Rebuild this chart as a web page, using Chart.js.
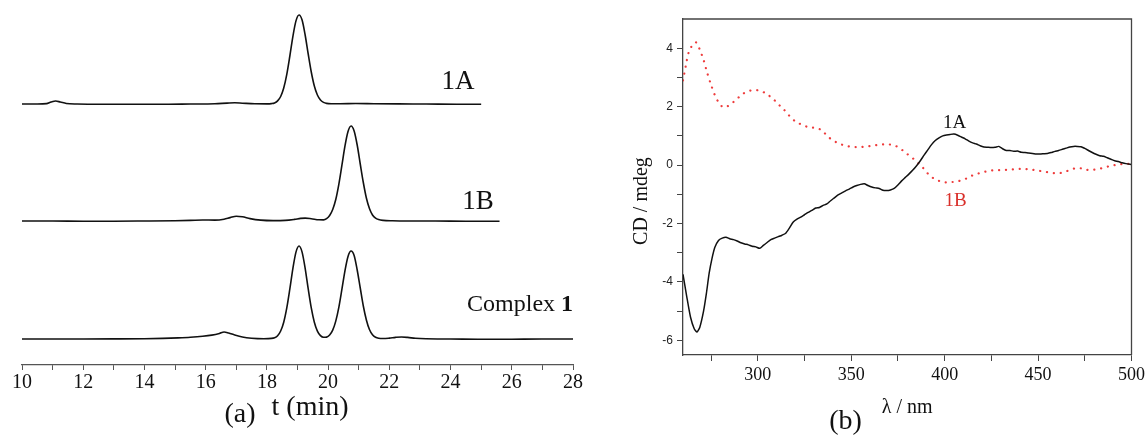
<!DOCTYPE html>
<html>
<head>
<meta charset="utf-8">
<script src="https://cdn.jsdelivr.net/npm/chart.js@4.4.1/dist/chart.umd.min.js"></script>
<style>
  html,body{margin:0;padding:0;background:#fff;}
  #wrap{position:relative;width:1148px;height:437px;overflow:hidden;background:#fff;}
  #ca{position:absolute;left:0;top:0;}
  #cb{position:absolute;left:600px;top:0;}
</style>
</head>
<body>
<div id="wrap">
  <canvas id="ca" width="600" height="437"></canvas>
  <canvas id="cb" width="548" height="437"></canvas>
</div>
<script>
// ---------------- Panel (a): HPLC chromatograms ----------------
// [time (min), detector signal above own baseline]
const hplc1A = [[10,0],[10.5,0],[10.8,0.4],[10.95,2.0],[11.1,3.0],[11.25,2.0],[11.45,0.5],[11.8,0],[12.5,-0.2],[13.5,-0.3],[14.5,-0.3],[15.5,0],[16.3,0.3],[16.7,0.9],[16.95,1.2],[17.2,0.8],[17.6,0.2],[18.0,0.1],[18.15,0.4],[18.25,1.1],[18.35,3.1],[18.45,7.5],[18.55,16],[18.65,29.7],[18.75,48],[18.85,67.7],[18.95,83.1],[19.05,89],[19.15,84],[19.25,69],[19.35,50],[19.45,32],[19.55,18],[19.65,9],[19.75,4],[19.85,1.6],[19.95,0.6],[20.1,0.3],[20.4,0.3],[20.9,0.5],[21.5,0.3],[22.3,0.1],[23.2,0],[24.2,-0.2],[25.0,-0.2]];
const hplc1B = [[10,0],[11,0],[12,-0.2],[13,-0.2],[14,0],[15,0.3],[15.5,0.6],[15.9,1.0],[16.3,0.9],[16.6,1.8],[16.8,3.4],[17.0,4.8],[17.2,4.2],[17.45,2.4],[17.8,0.9],[18.2,0.4],[18.6,0.6],[18.9,1.6],[19.1,2.6],[19.25,2.9],[19.45,2.3],[19.7,1.2],[19.85,1.1],[19.95,2.3],[20.05,5.5],[20.15,11.5],[20.25,21.5],[20.35,36.7],[20.45,55.6],[20.55,74.9],[20.65,89.5],[20.75,95],[20.85,90],[20.95,76],[21.05,57],[21.15,38.5],[21.25,23],[21.35,12.5],[21.45,6],[21.55,2.8],[21.65,1.4],[21.8,0.6],[22.1,0.2],[22.6,0],[23.5,0],[24.5,-0.2],[25.6,-0.2]];
const hplcComplex = [[10,0],[11,0],[12,0],[13,0.1],[14,0.3],[14.6,0.6],[15.1,1.1],[15.5,1.7],[15.9,2.7],[16.2,3.9],[16.45,5.6],[16.6,7.0],[16.75,6.0],[16.95,4.0],[17.2,2.0],[17.5,0.8],[17.9,0.3],[18.15,0.6],[18.25,1.3],[18.35,3.3],[18.45,8.0],[18.55,16.8],[18.65,31.1],[18.75,50.1],[18.85,70.7],[18.95,86.9],[19.05,93],[19.15,86.9],[19.25,70.7],[19.35,50.1],[19.45,31.1],[19.55,16.8],[19.65,7.9],[19.75,3.4],[19.85,1.7],[19.95,1.9],[20.05,4.0],[20.15,8.9],[20.25,17.9],[20.35,31.7],[20.45,49.6],[20.55,68.2],[20.65,82.6],[20.75,88],[20.85,83.5],[20.95,69],[21.05,51],[21.15,33],[21.25,19],[21.35,9.5],[21.45,4.3],[21.55,1.8],[21.65,0.8],[21.8,0.5],[22.0,0.9],[22.2,1.6],[22.4,2.0],[22.6,1.6],[22.85,0.7],[23.2,0.2],[24,0],[25,-0.3],[26,-0.2],[27,0],[28,0]];
// vertical offsets of the stacked traces (same units as signal)
const hplcOffsets = [261, 144, 26];
const hplcNames = ['1A', '1B', 'Complex 1'];
const timeTicks = [10,11,12,13,14,15,16,17,18,19,20,21,22,23,24,25,26,27,28];

// ---------------- Panel (b): CD spectra ----------------
// [wavelength (nm), CD (mdeg)]
const cd1A = [[260,-3.74],[262,-4.5],[264,-5.2],[266,-5.6],[267.5,-5.71],[269,-5.55],[271,-5.0],[272.5,-4.4],[274,-3.7],[275.5,-3.2],[277,-2.82],[279,-2.58],[281,-2.5],[283,-2.47],[285,-2.52],[287,-2.55],[289,-2.6],[291,-2.66],[293,-2.7],[295,-2.73],[297,-2.78],[299,-2.8],[301,-2.85],[303,-2.75],[305,-2.65],[307,-2.55],[309,-2.5],[311,-2.45],[313,-2.4],[315,-2.33],[317,-2.15],[319,-1.95],[321,-1.85],[323,-1.78],[325,-1.7],[327,-1.62],[329,-1.55],[331,-1.47],[333,-1.45],[335,-1.38],[337,-1.33],[339,-1.22],[341,-1.12],[343,-1.02],[345,-0.95],[347,-0.88],[349,-0.82],[351,-0.75],[353,-0.7],[355,-0.66],[357,-0.64],[359,-0.7],[361,-0.75],[363,-0.78],[365,-0.8],[367,-0.86],[369,-0.87],[371,-0.85],[373,-0.8],[375,-0.68],[377,-0.54],[379,-0.42],[381,-0.3],[383,-0.17],[385,-0.02],[387,0.15],[389,0.34],[391,0.52],[393,0.7],[395,0.84],[397,0.93],[399,1.0],[401,1.03],[403,1.05],[405,1.06],[407,1.02],[409,0.96],[411,0.9],[413,0.82],[415,0.76],[417,0.72],[419,0.66],[421,0.62],[423,0.61],[425,0.6],[427,0.61],[429,0.64],[431,0.56],[433,0.5],[435,0.5],[437,0.47],[439,0.48],[441,0.44],[443,0.43],[445,0.41],[447,0.4],[449,0.38],[451,0.38],[453,0.39],[455,0.4],[457,0.43],[459,0.47],[461,0.5],[463,0.54],[465,0.58],[467,0.62],[469,0.64],[471,0.64],[473,0.63],[475,0.57],[477,0.5],[479,0.43],[481,0.37],[483,0.32],[485,0.3],[487,0.25],[489,0.2],[491,0.15],[493,0.12],[495,0.08],[497,0.05],[500,0.02]];
const cd1B = [[260,2.9],[261.5,3.4],[263,3.85],[265,4.1],[267,4.2],[269,3.95],[271,3.6],[273,3.15],[275,2.75],[277,2.4],[279,2.15],[281,2.0],[282.5,1.98],[284,2.02],[286,2.1],[288,2.22],[290,2.33],[292,2.44],[294,2.5],[296,2.55],[298,2.57],[300,2.56],[302,2.52],[304,2.47],[306,2.38],[308,2.28],[310,2.15],[312,2.02],[314,1.9],[316,1.75],[318,1.62],[320,1.5],[322,1.43],[324,1.37],[326,1.32],[328,1.28],[330,1.28],[332,1.26],[334,1.2],[336,1.08],[338,0.95],[340,0.86],[342,0.78],[344,0.72],[346,0.68],[348,0.65],[350,0.63],[352,0.62],[354,0.61],[356,0.62],[358,0.64],[360,0.65],[362,0.67],[364,0.69],[366,0.7],[368,0.71],[370,0.71],[372,0.69],[374,0.65],[376,0.58],[378,0.48],[380,0.38],[382,0.28],[384,0.18],[386,0.06],[388,-0.06],[390,-0.22],[392,-0.35],[394,-0.45],[396,-0.52],[398,-0.56],[400,-0.59],[402,-0.59],[404,-0.58],[406,-0.57],[408,-0.54],[410,-0.5],[412,-0.45],[414,-0.38],[416,-0.33],[418,-0.29],[420,-0.25],[423,-0.21],[426,-0.18],[430,-0.17],[434,-0.16],[438,-0.14],[442,-0.13],[446,-0.15],[450,-0.19],[454,-0.23],[458,-0.27],[461,-0.28],[464,-0.24],[467,-0.17],[470,-0.11],[473,-0.11],[476,-0.16],[479,-0.16],[482,-0.14],[485,-0.09],[488,-0.04],[491,0.0],[494,0.03],[497,0.04],[500,0.04]];
const wlTicks = [275,300,325,350,375,400,425,450,475,500];
const cdTicks = [-6,-5,-4,-3,-2,-1,0,1,2,3,4];

// ---------------- helpers / plugins ----------------
const SERIF = '"Liberation Serif", "Times New Roman", serif';
const SANS = '"Liberation Sans", Arial, sans-serif';

const annot = {
  id: 'annot',
  afterDraw(chart, args, opts) {
    const ctx = chart.ctx, xs = chart.scales.x, ys = chart.scales.y, ca = chart.chartArea;
    ctx.save();
    (opts.items || []).forEach(it => {
      const px = it.x !== undefined ? xs.getPixelForValue(it.x) : ca.left + it.dx;
      const py = it.y !== undefined ? ys.getPixelForValue(it.y) : ca.bottom + it.dy;
      ctx.save();
      ctx.translate(px, py);
      if (it.rot) ctx.rotate(it.rot);
      ctx.fillStyle = it.color || '#111';
      ctx.textBaseline = 'middle';
      const parts = it.parts || [{text: it.text}];
      let total = 0;
      parts.forEach(p => { ctx.font = (p.bold ? 'bold ' : '') + it.font; total += ctx.measureText(p.text).width; });
      let cx = it.align === 'left' ? 0 : -total / 2;
      ctx.textAlign = 'left';
      parts.forEach(p => {
        ctx.font = (p.bold ? 'bold ' : '') + it.font;
        ctx.fillText(p.text, cx, 0);
        cx += ctx.measureText(p.text).width;
      });
      ctx.restore();
    });
    ctx.restore();
  }
};

const frame = {
  id: 'frame',
  afterDraw(chart, args, opts) {
    if (!opts.on) return;
    const ctx = chart.ctx, ca = chart.chartArea;
    ctx.save();
    ctx.strokeStyle = '#444';
    ctx.lineWidth = 1.3;
    ctx.beginPath();
    ctx.moveTo(ca.left, ca.top);
    ctx.lineTo(ca.right, ca.top);
    ctx.lineTo(ca.right, ca.bottom);
    ctx.stroke();
    ctx.restore();
  }
};

// ---------------- Chart (a) ----------------
const traces = [hplc1A, hplc1B, hplcComplex];
new Chart(document.getElementById('ca'), {
  type: 'line',
  data: {
    datasets: traces.map((tr, i) => ({
      label: hplcNames[i],
      data: tr.map(p => ({x: p[0], y: p[1] + hplcOffsets[i]})),
      borderColor: '#111',
      borderWidth: 1.6,
      pointRadius: 0,
      cubicInterpolationMode: 'monotone',
      fill: false
    }))
  },
  options: {
    responsive: false, animation: false, devicePixelRatio: 1,
    layout: {padding: {left: 22, right: 27, top: 10, bottom: 0}},
    plugins: {
      legend: {display: false}, tooltip: {enabled: false},
      annot: {items: [
        {text: '1A', x: 24.24, y: 283, font: '27px ' + SERIF},
        {text: '1B', x: 24.9, y: 163, font: '27px ' + SERIF},
        {parts: [{text: 'Complex '}, {text: '1', bold: true}], x: 24.54, y: 60, align: 'left', font: '24px ' + SERIF},
        {text: '(a)', x: 17.12, dy: 50, font: '28px ' + SERIF},
        {text: 't (min)', x: 19.41, dy: 43, font: '28px ' + SERIF}
      ]}
    },
    scales: {
      x: {
        type: 'linear', min: 10, max: 28,
        afterFit: s => { s.height = 72; },
        afterBuildTicks: s => { s.ticks = timeTicks.map(v => ({value: v})); },
        ticks: {autoSkip: false, maxRotation: 0, padding: 1, color: '#111',
          font: {family: SERIF, size: 20},
          callback: v => (v % 2 === 0 ? String(v) : '')},
        grid: {drawOnChartArea: false, tickLength: 5, color: '#555'},
        border: {display: true, color: '#555', width: 1.2}
      },
      y: {display: false, min: 0, max: 355}
    }
  },
  plugins: [annot]
});

// ---------------- Chart (b) ----------------
new Chart(document.getElementById('cb'), {
  type: 'line',
  data: {
    datasets: [
      {label: '1A', data: cd1A.map(p => ({x: p[0], y: p[1]})), borderColor: '#111', borderWidth: 1.5,
        pointRadius: 0, tension: 0.2, fill: false},
      {label: '1B', data: cd1B.map(p => ({x: p[0], y: p[1]})), borderColor: '#ee3b3b', borderWidth: 2.2,
        borderDash: [0.1, 6.8], borderCapStyle: 'round', pointRadius: 0, tension: 0.3, fill: false}
    ]
  },
  options: {
    responsive: false, animation: false, devicePixelRatio: 1,
    layout: {padding: {left: 0, right: 15, top: 19, bottom: 0}},
    plugins: {
      legend: {display: false}, tooltip: {enabled: false},
      frame: {on: true},
      annot: {items: [
        {text: '1A', x: 405.3, y: 1.43, font: '19px ' + SERIF, color: '#111'},
        {text: '1B', x: 405.9, y: -1.23, font: '19px ' + SERIF, color: '#d9302b'},
        {text: 'λ / nm', x: 380, dy: 53, font: '20px ' + SERIF},
        {text: '(b)', x: 347, dy: 67, font: '28px ' + SERIF},
        {text: 'CD / mdeg', dx: -41, y: -1.23, rot: -Math.PI / 2, font: '20px ' + SERIF}
      ]}
    },
    scales: {
      x: {
        type: 'linear', min: 260, max: 500,
        afterFit: s => { s.height = 82; },
        afterBuildTicks: s => { s.ticks = wlTicks.map(v => ({value: v})); },
        ticks: {autoSkip: false, maxRotation: 0, padding: 3, color: '#111',
          font: {family: SERIF, size: 18},
          callback: v => (v % 50 === 0 ? String(v) : '')},
        grid: {drawOnChartArea: false, tickLength: 6, color: '#444'},
        border: {display: true, color: '#444', width: 1.3}
      },
      y: {
        min: -6.5, max: 5,
        afterFit: s => { s.width = 83; },
        afterBuildTicks: s => { s.ticks = cdTicks.map(v => ({value: v})); },
        ticks: {autoSkip: false, padding: 4, color: '#222',
          font: {family: SANS, size: 12},
          callback: v => (v % 2 === 0 ? String(v) : '')},
        grid: {drawOnChartArea: false, tickLength: 6, color: '#444'},
        border: {display: true, color: '#444', width: 1.3}
      }
    }
  },
  plugins: [annot, frame]
});
</script>
</body>
</html>
